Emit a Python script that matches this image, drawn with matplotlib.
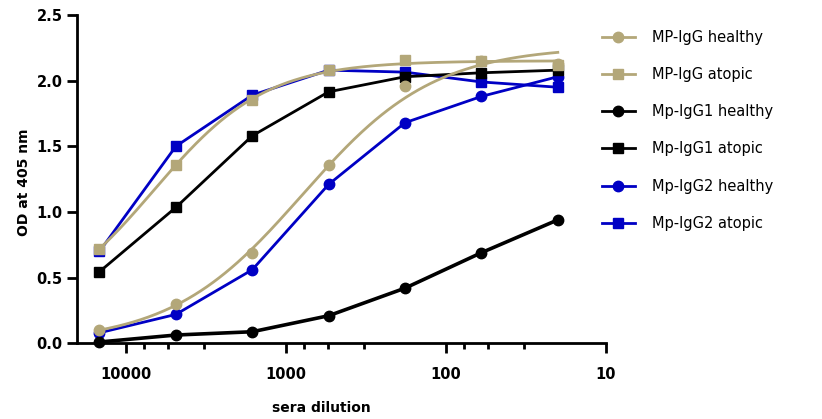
import numpy as np
import matplotlib
matplotlib.use("Agg")
import matplotlib.pyplot as plt
from matplotlib.ticker import FixedLocator, NullFormatter
from matplotlib.lines import Line2D

plt.rcParams['font.family'] = ['DejaVu Sans']

# ---- data ----
dilutions = [14580, 4860, 1620, 540, 180, 60, 20]
mp_igg_healthy = [0.10, 0.30, 0.69, 1.36, 1.96, 2.15, 2.13]
mp_igg_atopic = [0.72, 1.36, 1.85, 2.08, 2.155, 2.15, 2.12]
mp_igg1_healthy = [0.01, 0.063, 0.088, 0.21, 0.42, 0.69, 0.94]
mp_igg1_atopic = [0.545, 1.035, 1.58, 1.915, 2.03, 2.06, 2.08]
mp_igg2_healthy = [0.08, 0.22, 0.56, 1.21, 1.68, 1.88, 2.03]
mp_igg2_atopic = [0.70, 1.50, 1.89, 2.08, 2.065, 1.99, 1.95]

labels = ["MP-IgG healthy", "MP-IgG atopic", "Mp-IgG1 healthy",
          "Mp-IgG1 atopic", "Mp-IgG2 healthy", "Mp-IgG2 atopic"]
major_ticks = [10000, 1000, 100, 10]
major_labels = ["10000", "1000", "100", "10"]
y_ticks = [0.0, 0.5, 1.0, 1.5, 2.0, 2.5]

TAN = "#B3A779"
BLUE = "#0000C4"
BLACK = "#000000"


def fit4pl(x, y, relative=True):
    """Four-parameter logistic fit (relative 1/Y^2 weighting)."""
    lx = np.log10(np.asarray(x, float))
    y = np.asarray(y, float)
    w = 1.0 / y if relative else np.ones_like(y)

    def f(p, lx):
        b, t, c, h = p
        return b + (t - b) / (1 + 10 ** ((lx - c) * h))

    p = np.array([y.min(), y.max(), np.mean(lx), 1.0])
    lam = 1e-3
    cost = np.sum(((y - f(p, lx)) * w) ** 2)
    for _ in range(800):
        r = (y - f(p, lx)) * w
        J = np.zeros((len(lx), 4))
        for k in range(4):
            dp = np.zeros(4)
            dp[k] = 1e-6
            J[:, k] = (f(p + dp, lx) - f(p - dp, lx)) / 2e-6 * w
        A = J.T @ J
        g = J.T @ r
        step = np.linalg.solve(A + lam * np.diag(np.diag(A) + 1e-12), g)
        pn = p + step
        cn = np.sum(((y - f(pn, lx)) * w) ** 2)
        if cn < cost:
            p, cost = pn, cn
            lam *= 0.3
        else:
            lam *= 5
    xs = np.logspace(lx.max(), lx.min(), 300)
    return xs, f(p, np.log10(xs))


fig = plt.figure(figsize=(8.22, 4.19), dpi=100)
ax = fig.add_axes([76.7 / 822, 1 - 343.3 / 419, (606 - 76.7) / 822, (343.3 - 15) / 419])
ax.set_xscale('log')
ax.set_xlim(20230, 10)
ax.set_ylim(0, 2.5)

ms_c = 7.5
ms_s = 7.2
# blue series
ax.plot(dilutions, mp_igg2_healthy, '-o', color=BLUE, lw=2, ms=ms_c, zorder=3, clip_on=False)
ax.plot(dilutions, mp_igg2_atopic, '-s', color=BLUE, lw=2, ms=ms_s, zorder=3, clip_on=False)
# black series
ax.plot(dilutions, mp_igg1_healthy, '-o', color=BLACK, lw=2.6, ms=ms_c, zorder=4, clip_on=False)
ax.plot(dilutions, mp_igg1_atopic, '-s', color=BLACK, lw=2, ms=ms_s, zorder=4, clip_on=False)
# tan series: fitted curves + points
xs, ys = fit4pl(dilutions, mp_igg_healthy)
ax.plot(xs, ys, '-', color=TAN, lw=2, zorder=5)
ax.plot(dilutions, mp_igg_healthy, 'o', color=TAN, ms=ms_c, zorder=5, clip_on=False)
xs, ys = fit4pl(dilutions, mp_igg_atopic)
ax.plot(xs, ys, '-', color=TAN, lw=2, zorder=5)
ax.plot(dilutions, mp_igg_atopic, 's', color=TAN, ms=ms_s, zorder=5, clip_on=False)

# legend proxies
handles = [
    Line2D([], [], color=TAN, marker='o', lw=2, ms=ms_c),
    Line2D([], [], color=TAN, marker='s', lw=2, ms=ms_s),
    Line2D([], [], color=BLACK, marker='o', lw=2, ms=ms_c),
    Line2D([], [], color=BLACK, marker='s', lw=2, ms=ms_s),
    Line2D([], [], color=BLUE, marker='o', lw=2, ms=ms_c),
    Line2D([], [], color=BLUE, marker='s', lw=2, ms=ms_s),
]
fig.legend(handles, labels, loc='upper left', bbox_to_anchor=(602 / 822, 1 - 30 / 419),
           frameon=False, fontsize=10.5, handlelength=2.25, handletextpad=1.15,
           labelspacing=1.52, borderaxespad=0, borderpad=0)

# spines
for s in ['top', 'right']:
    ax.spines[s].set_visible(False)
for s in ['left', 'bottom']:
    ax.spines[s].set_linewidth(2)

ax.xaxis.set_major_locator(FixedLocator(major_ticks))
ax.set_xticklabels(major_labels)
minor = []
for k in [4, 3, 2]:
    for d in [0.113, 0.264, 0.49]:
        minor.append(10 ** (k - d))
ax.xaxis.set_minor_locator(FixedLocator(minor))
ax.xaxis.set_minor_formatter(NullFormatter())
ax.tick_params(axis='x', which='major', length=7, width=2, pad=10, labelsize=10.5)
ax.tick_params(axis='x', which='minor', length=4, width=2)
ax.set_yticks(y_ticks)
ax.set_yticklabels([f"{v:.1f}" for v in y_ticks])
ax.tick_params(axis='y', which='major', length=7, width=2, pad=3, labelsize=10.5)
for lab in ax.get_xticklabels() + ax.get_yticklabels():
    lab.set_fontweight('bold')

ax.set_ylabel("OD at 405 nm", fontsize=10, fontweight='bold')
ax.yaxis.set_label_coords(-0.087, 0.49)
ax.set_xlabel("sera dilution", fontsize=10, fontweight='bold')
ax.xaxis.set_label_coords(0.463, -0.175)

fig.savefig("out.png", dpi=100)
